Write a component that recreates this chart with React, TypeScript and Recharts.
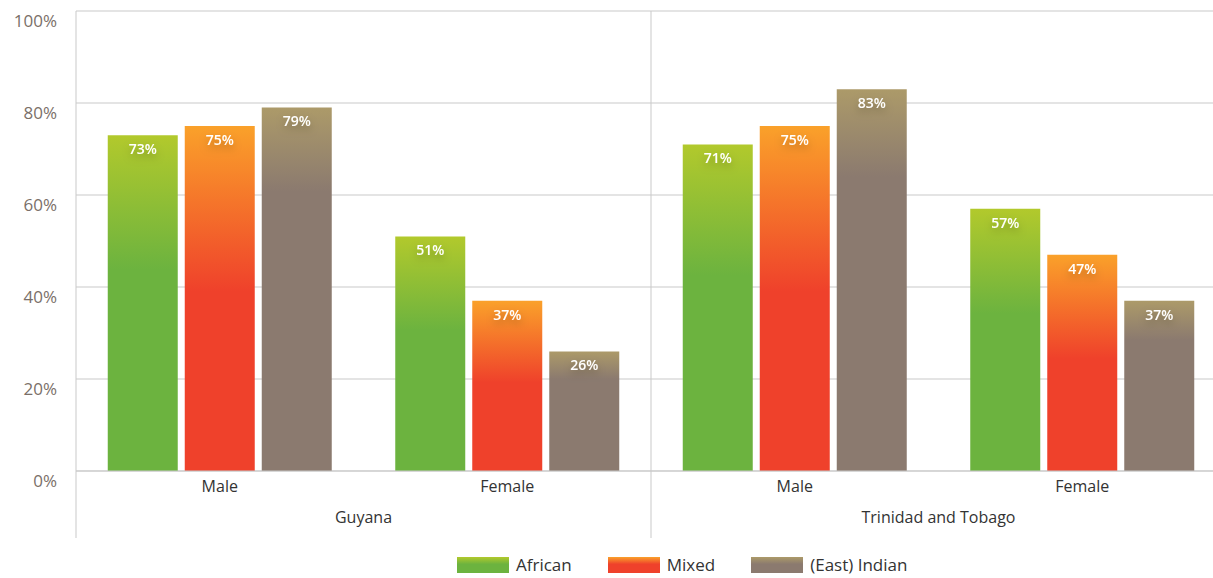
import { BarChart, Bar, XAxis, YAxis, CartesianGrid, LabelList, Legend, ReferenceLine } from 'recharts';

const sexes = ['Male', 'Female', 'Male', 'Female'];
const countries = ['Guyana', 'Trinidad and Tobago'];
const african = [73, 51, 71, 57];
const mixed = [75, 37, 75, 47];
const eastIndian = [79, 26, 83, 37];
const yTicks = [0, 20, 40, 60, 80, 100];

const data = sexes.map((sex, i) => ({
    sex,
    pos: i + 0.5,
    african: african[i],
    mixed: mixed[i],
    eastIndian: eastIndian[i],
}));

const series = [
    { key: 'african', name: 'African', top: '#b2c92c', bottom: '#6cb33f', stop: 0.4 },
    { key: 'mixed', name: 'Mixed', top: '#faa12a', bottom: '#ef412b', stop: 0.48 },
    { key: 'eastIndian', name: '(East) Indian', top: '#ac9a69', bottom: '#8b7a6f', stop: 0.23 },
];

const FONT = '"Open Sans", "Noto Sans", sans-serif';
const GRID = '#c9c9c9';

function ValueLabel(props: any) {
    const { x, y, width, value } = props;
    return (
        <text
            x={x + width / 2}
            y={y + 15}
            textAnchor="middle"
            dominantBaseline="middle"
            fill="#ffffff"
            fontFamily={FONT}
            fontWeight={600}
            fontSize={14}
            filter="url(#labelGlow)"
        >
            {value}%
        </text>
    );
}

function CountryTick(props: any) {
    const { x, y, payload } = props;
    const v = payload.value;
    if (v % 2 === 0) {
        return <line x1={x} x2={x} y1={y - 40} y2={y + 27} stroke={GRID} strokeWidth={1} />;
    }
    return (
        <text x={x} y={y + 12} textAnchor="middle" fill="#333333" fontFamily={FONT} fontSize={16}>
            {countries[(v - 1) / 2]}
        </text>
    );
}

function LegendContent() {
    return (
        <div style={{ display: 'flex', justifyContent: 'flex-start', paddingTop: 17, height: 20, paddingLeft: 457 }}>
            {series.map((s) => (
                <div key={s.key} style={{ display: 'flex', alignItems: 'center', marginRight: 36 }}>
                    <div
                        style={{
                            width: 52,
                            height: 16,
                            background: `linear-gradient(${s.top}, ${s.bottom} 45%)`,
                            marginRight: 7,
                        }}
                    />
                    <span style={{ fontFamily: FONT, fontSize: 17, lineHeight: '20px', color: '#333333' }}>{s.name}</span>
                </div>
            ))}
        </div>
    );
}

export default function App() {
    return (
        <div style={{ position: 'absolute', left: 0, top: 0, width: 1213, height: 578, overflow: 'hidden', background: '#fff' }}>
            <BarChart
                width={1240}
                height={578}
                data={data}
                margin={{ top: 11, right: 14, bottom: 0, left: 0 }}
                barCategoryGap={31.75}
                barGap={7}
            >
                <defs>
                    {series.map((s) => (
                        <linearGradient key={s.key} id={`grad-${s.key}`} x1="0" y1="0" x2="0" y2="1">
                            <stop offset="0" stopColor={s.top} />
                            <stop offset={s.stop} stopColor={s.bottom} />
                            <stop offset="1" stopColor={s.bottom} />
                        </linearGradient>
                    ))}
                    <filter id="labelGlow" x="-30%" y="-60%" width="160%" height="260%">
                        <feDropShadow dx="0" dy="4" stdDeviation="4" floodColor="#000" floodOpacity="0.25" />
                    </filter>
                </defs>
                <CartesianGrid vertical={false} stroke={GRID} strokeWidth={1} />
                <XAxis
                    dataKey="sex"
                    xAxisId={0}
                    height={34}
                    axisLine={{ stroke: GRID }}
                    tickLine={false}
                    interval={0}
                    tick={{ fill: '#333333', fontFamily: FONT, fontSize: 16 }}
                    tickMargin={4}
                />
                <XAxis
                    dataKey="pos"
                    xAxisId="country"
                    type="number"
                    domain={[0, 4]}
                    ticks={[0, 1, 2, 3, 4]}
                    height={33}
                    axisLine={false}
                    tickLine={false}
                    tick={<CountryTick />}
                    tickMargin={0}
                    interval={0}
                />
                <YAxis
                    width={76}
                    domain={[0, 100]}
                    ticks={yTicks}
                    axisLine={{ stroke: GRID }}
                    tickLine={false}
                    tickFormatter={(v) => `${v}%`}
                    tick={{ fill: '#7a6f68', fontFamily: FONT, fontSize: 17, dy: 10 }}
                    tickMargin={13}
                />
                <ReferenceLine xAxisId="country" x={2} stroke={GRID} strokeWidth={1} />
                {series.map((s) => (
                    <Bar key={s.key} dataKey={s.key} name={s.name} fill={`url(#grad-${s.key})`} isAnimationActive={false}>
                        <LabelList dataKey={s.key} content={<ValueLabel />} />
                    </Bar>
                ))}
                <Legend verticalAlign="bottom" height={40} content={<LegendContent />} />
            </BarChart>
        </div>
    );
}
